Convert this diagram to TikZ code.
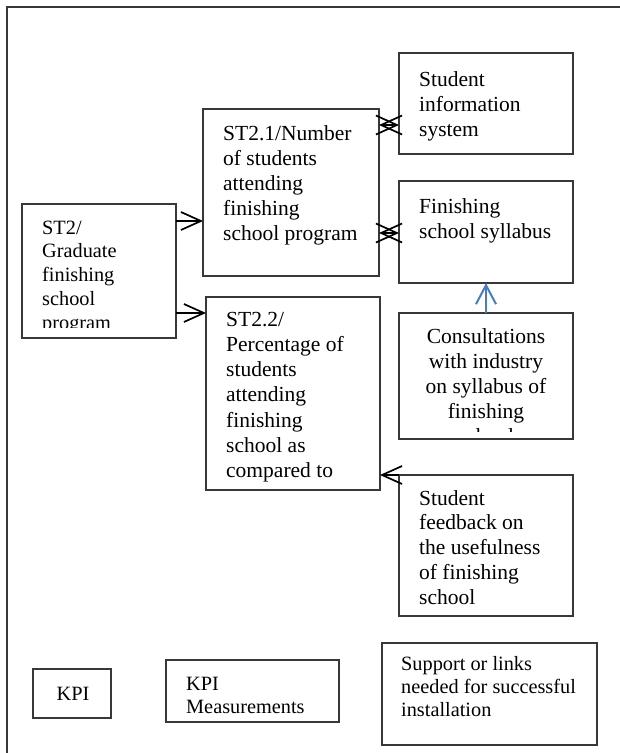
\documentclass[tikz,border=0pt]{standalone}
\usepackage{fontspec}
\setmainfont{Liberation Serif}
\usetikzlibrary{arrows.meta}

% one text line per node, placed on its baseline
\newcommand\textlines[6]{% name, anchor, x, first baseline, line step, lines
  \foreach \t [count=\i] in {#6} {%
    \node[txt, anchor=#2] (#1-\i) at (#3, {#4+(\i-1)*#5}) {\t};}}

\begin{document}
\begin{tikzpicture}[x=1pt, y=-1pt,
  boxline/.style={draw=black!78, line width=1.3pt},
  box/.style={boxline, inner sep=0pt, outer sep=0pt, anchor=north west},
  txt/.style={inner sep=0pt, font=\fontsize{21.5}{25}\selectfont},
  smalltxt/.style={txt, font=\fontsize{20.3}{23}\selectfont},
  arr/.style={-{Straight Barb[length=20pt,width=18pt]}, line width=1.7pt, black},
  dbl/.style={{Straight Barb[length=21pt,width=19pt]}-{Straight Barb[length=21pt,width=19pt]}, line width=1.7pt, black},
  bluearr/.style={-{Straight Barb[length=19pt,width=20pt]}, line width=2pt, color={rgb,255:red,74;green,126;blue,187}},
]
\useasboundingbox (0,0) rectangle (620,753);

% outer frame (runs off the right and bottom edges)
\draw[boxline] (7,760) -- (7,7) -- (630,7);

% boxes
\node[box, minimum width=154pt, minimum height=134pt] (st2)  at (22,204) {};
\node[box, minimum width=176pt, minimum height=167pt] (st21) at (203,109) {};
\node[box, minimum width=174pt, minimum height=193pt] (st22) at (206,297) {};
\node[box, minimum width=174pt, minimum height=101pt] (info) at (399,53) {};
\node[box, minimum width=174pt, minimum height=102pt] (syl)  at (399,181) {};
\node[box, minimum width=174pt, minimum height=126pt] (cons) at (399,313) {};
\node[box, minimum width=174pt, minimum height=141pt] (fb)   at (399,475) {};
\node[box, minimum width=78pt,  minimum height=49pt]  (kpi)  at (33,669) {};
\node[box, minimum width=173pt, minimum height=62pt]  (kpim) at (166,660) {};
\node[box, minimum width=215pt, minimum height=102pt] (sup)  at (382,643) {};

% box texts
\begin{scope}
  \clip (22,204) rectangle (176,327);
  \foreach \t [count=\i] in {ST2/,Graduate,finishing,school,program} {%
    \node[smalltxt, anchor=base west] (st2-\i) at (42, {234+(\i-1)*23.8}) {\t};}
\end{scope}

\textlines{st21}{base west}{223}{140}{25}{ST2.1/Number,of students,attending,finishing,school program}

\begin{scope}
  \clip (206,297) rectangle (380,482);
  \textlines{st22}{base west}{226}{326}{25.3}{ST2.2/,Percentage of,students,attending,finishing,school as,compared to}
\end{scope}

\textlines{info}{base west}{419}{86}{25}{Student,information,system}
\textlines{syl}{base west}{419}{213}{25}{Finishing,school syllabus}

\begin{scope}
  \clip (399,313) rectangle (573,431);
  \textlines{cons}{base}{486}{343}{25.2}{Consultations,with industry,on syllabus of,finishing,school}
\end{scope}

\textlines{fb}{base west}{419}{505}{24.8}{Student,feedback on,the usefulness,of finishing,school}

\foreach \t [count=\i] in {KPI} {\node[smalltxt, anchor=base] (kpi-\i) at (73,700) {\t};}
\foreach \t [count=\i] in {KPI,Measurements} {%
  \node[smalltxt, anchor=base west] (kpim-\i) at (186, {690+(\i-1)*23.5}) {\t};}
\foreach \t [count=\i] in {Support or links,needed for successful,installation} {%
  \node[smalltxt, anchor=base west] (sup-\i) at (401, {670+(\i-1)*23}) {\t};}

% connector heights
\coordinate (ya) at (0,221);
\coordinate (yb) at (0,313);
\coordinate (yc) at (0,125);
\coordinate (yd) at (0,233);

% connectors
\draw[arr] (st2.east |- ya) -- (st21.west |- ya);
\draw[arr] (st2.east |- yb) -- (st22.west |- yb);
\draw[dbl] (st21.east |- yc) -- (info.west |- yc);
\draw[dbl] (st21.east |- yd) -- (syl.west |- yd);
\draw[bluearr] (cons.north) -- (syl.south);
\draw[arr] (fb.north west) -- (st22.east |- fb.north west);
\end{tikzpicture}
\end{document}
